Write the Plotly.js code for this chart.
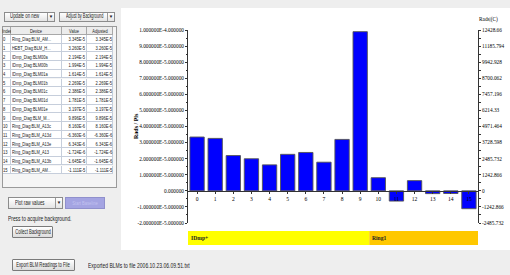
<!DOCTYPE html>
<html><head><meta charset="utf-8">
<script src="https://cdn.plot.ly/plotly-3.0.1.min.js"></script>
<style>
html,body{margin:0;padding:0;background:#eeeeee;width:510px;height:275px;overflow:hidden;font-family:"Liberation Sans",Arial,sans-serif;}
.abs{position:absolute;box-sizing:border-box;}
.t{position:absolute;white-space:nowrap;color:#222;}
</style></head><body>
<div id="chart" class="abs" style="left:121px;top:8px;width:389px;height:242px;background:#fff;"></div>
<script>
// ---------------- data ----------------
const indexes = [0,1,2,3,4,5,6,7,8,9,10,11,12,13,14,15];
const devices = ["Ring_Diag:BLM_AM...","HEBT_Diag:BLM_H...","IDmp_Diag:BLM00a","IDmp_Diag:BLM00b",
  "IDmp_Diag:BLM01a","IDmp_Diag:BLM01b","IDmp_Diag:BLM01c","IDmp_Diag:BLM01d","IDmp_Diag:BLM01e",
  "IDmp_Diag:BLM_M...","Ring_Diag:BLM_A13c","Ring_Diag:BLM_A13d","Ring_Diag:BLM_A13e",
  "Ring_Diag:BLM_A13","Ring_Diag:BLM_A13b","Ring_Diag:BLM_AM..."];
const rawValues = [3.345e-5,3.260e-5,2.194e-5,1.994e-5,1.614e-5,2.269e-5,2.386e-5,1.781e-5,3.197e-5,
  9.896e-5,8.160e-6,-6.360e-6,6.343e-6,-1.724e-6,-1.645e-6,-1.111e-5];
const adjustedValues = [3.345e-5,3.260e-5,2.194e-5,1.994e-5,1.614e-5,2.269e-5,2.386e-5,1.781e-5,3.197e-5,
  9.896e-5,8.160e-6,-6.360e-6,6.343e-6,-1.724e-6,-1.645e-6,-1.111e-5];
const categoryLabels = ["0","1","2","3","4","5","6","7","8","9","10","11","12","13","14","15"];
const leftTickVals = [1e-4,9e-5,8e-5,7e-5,6e-5,5e-5,4e-5,3e-5,2e-5,1e-5,0,-1e-5,-2e-5];
const leftTickText = ["1.000000E-4.000000","9.000000E-5.000000","8.000000E-5.000000","7.000000E-5.000000",
  "6.000000E-5.000000","5.000000E-5.000000","4.000000E-5.000000","3.000000E-5.000000","2.000000E-5.000000",
  "1.000000E-5.000000","0.000000","-1.000000E-5.000000","-2.000000E-5.000000"];
const rightTickVals = [12428.66,11185.794,9942.928,8700.062,7457.196,6214.33,4971.464,3728.598,2485.732,1242.866,0,-1242.866,-2485.732];
const rightTickText = ["12428.66","11185.794","9942.928","8700.062","7457.196","6214.33","4971.464","3728.598","2485.732","1242.866","0","-1242.866","-2485.732"];
const groupNames = ["IDmp+","Ring1"];
const groupFirst = [0,10];
const groupLast = [9,15];
const headers = ["Index","Device","Value","Adjusted"];

// ---------------- left panel (HTML) ----------------
const SX = 0.66;
function box(x0,y0,x1,y1,st){const d=document.createElement('div');d.className='abs';
  d.style.left=x0+'px';d.style.top=y0+'px';d.style.width=(x1-x0)+'px';d.style.height=(y1-y0)+'px';
  Object.assign(d.style,st||{});document.body.appendChild(d);return d;}
function txt(x,y,s,o){o=o||{};const fs=o.fs||6,sx=o.sx||SX;const e=document.createElement('div');e.className='t';
  e.textContent=s;e.style.fontSize=fs+'px';e.style.lineHeight=fs+'px';e.style.top=(y-fs/2)+'px';
  if(o.color)e.style.color=o.color;
  if(o.align==='right'){e.style.right=(510-x)+'px';e.style.transformOrigin='right center';e.style.transform='scaleX('+sx+')';}
  else if(o.align==='center'){e.style.left=x+'px';e.style.transformOrigin='center center';e.style.transform='translateX(-50%) scaleX('+sx+')';}
  else{e.style.left=x+'px';e.style.transformOrigin='left center';e.style.transform='scaleX('+sx+')';}
  document.body.appendChild(e);}
function combo(x0,y0,x1,y1,label,sx){
  box(x0,y0,x1,y1,{background:'linear-gradient(#ffffff,#e4e4e4)',border:'1px solid #8c8c8c'});
  box(x1-8,y0+1,x1-7.5,y1-1,{background:'#9a9a9a'});
  txt(x0+6.5,(y0+y1)/2,label,{fs:6.4,sx:sx});
  txt(x1-4,(y0+y1)/2+0.3,'\u25BC',{fs:4.5,align:'center',sx:1});
}
combo(3.5,11.5,55,21.5,'Update on new',0.68);
combo(59,11.5,115,21.5,'Adjust by Background',0.6);

// table
box(2,26,117,188,{background:'#f5f5f5',border:'1px solid #9a9a9a'});
const cols=[[2.5,10.5],[10.5,61.7],[61.7,86.7],[86.7,113.3]];
const hy0=26.5,hy1=35,rh=8.7;
cols.forEach((c,j)=>{box(c[0],hy0,c[1],hy1,{background:'#ececec',borderRight:'1px solid #a8a8a8',borderBottom:'1px solid #a8a8a8'});
  txt((c[0]+c[1])/2,(hy0+hy1)/2,headers[j],{align:'center',fs:6});});
indexes.forEach((idx,i)=>{const y0=hy1+i*rh,y1=y0+rh,yc=(y0+y1)/2;
  cols.forEach(c=>box(c[0],y0,c[1],y1,{background:'#fff',borderRight:'1px solid #c6cedb',borderBottom:'1px solid #c6cedb'}));
  txt(cols[0][0]+0.8,yc,String(idx),{fs:6.2});
  txt(cols[1][0]+1.6,yc,devices[i],{fs:6.2,sx:0.64});
  txt(cols[2][1]-1.3,yc,rawValues[i].toExponential(3).toUpperCase(),{fs:6.2,align:'right'});
  txt(cols[3][1]-1.3,yc,adjustedValues[i].toExponential(3).toUpperCase(),{fs:6.2,align:'right'});
});

combo(8,197,63,209,'Plot raw values',0.68);
box(65,197,105,209,{background:'#a4a4e2',border:'1px solid #9090cc'});
txt(85,203,'Start Baseline',{align:'center',fs:6.2,color:'#c2c2f0'});
txt(8,219,'Press to acquire background.',{fs:6.6,sx:0.74});
box(11.7,226,53.3,238,{background:'linear-gradient(#ffffff,#dcdcdc)',border:'1px solid #7a7a7a',borderRadius:'1px'});
txt(32.5,232,'Collect Background',{align:'center',fs:6.4,sx:0.64});
box(11.7,259,75,271,{background:'linear-gradient(#ffffff,#dcdcdc)',border:'1px solid #7a7a7a',borderRadius:'1px'});
txt(43.3,265,'Export BLM Readings to File',{align:'center',fs:6.4,sx:0.66});
txt(88,266,'Exported BLMs to file 2006.10.23.06.09.51.txt',{fs:6.6,sx:0.76});

// ---------------- chart (Plotly) ----------------
const serif='"Liberation Serif","Times New Roman",serif';
const T=22,B=5,H=242,plotH=H-T-B;
const yDom0=(245-223)/plotH;
const yR=[-2e-5,1e-4];
const zeroPos=yDom0+(0-yR[0])/(yR[1]-yR[0])*(1-yDom0);
const bandTop=14/plotH;
const minorL=[];for(let k=0;k<leftTickVals.length-1;k++)minorL.push((leftTickVals[k]+leftTickVals[k+1])/2);
const minorR=[];for(let k=0;k<rightTickVals.length-1;k++)minorR.push((rightTickVals[k]+rightTickVals[k+1])/2);
const bandColors=['#ffff00','#ffc800'];

const traces=[
 {type:'bar',x:indexes,y:rawValues,marker:{color:'#0000ff',line:{color:'#555555',width:0.9}},hoverinfo:'skip'},
 {type:'scatter',x:[],y:[],yaxis:'y2',hoverinfo:'skip'}
];
const axCommon={showgrid:false,zeroline:false,showline:true,linecolor:'#333',linewidth:1,ticks:'outside',tickcolor:'#333',tickwidth:1,fixedrange:true};
const layout={
 width:389,height:H,margin:{l:67,r:32,t:T,b:B,pad:0},paper_bgcolor:'#ffffff',plot_bgcolor:'#ffffff',
 showlegend:false,bargap:0.21,
 xaxis:Object.assign({},axCommon,{range:[-0.5,15.5],tickmode:'array',tickvals:indexes,ticktext:categoryLabels,
   anchor:'free',position:zeroPos,ticklen:2,tickfont:{family:serif,size:5.6,color:'#000'}}),
 yaxis:Object.assign({},axCommon,{domain:[yDom0,1],range:yR,tickmode:'array',tickvals:leftTickVals,ticktext:leftTickText,
   ticklen:2,tickfont:{family:serif,size:5.3,color:'#000'},
   minor:{tickmode:'array',tickvals:minorL,ticks:'outside',ticklen:1.5,tickcolor:'#333'}}),
 yaxis2:Object.assign({},axCommon,{overlaying:'y',side:'right',anchor:'free',position:1,
   range:[rightTickVals[rightTickVals.length-1],rightTickVals[0]],tickmode:'array',tickvals:rightTickVals,ticktext:rightTickText,
   ticklen:2,tickfont:{family:serif,size:5.3,color:'#000'},
   minor:{tickmode:'array',tickvals:minorR,ticks:'outside',ticklen:1.5,tickcolor:'#333'}}),
 shapes:groupNames.map((g,i)=>({type:'rect',xref:'x',yref:'paper',x0:groupFirst[i]-0.5,x1:groupLast[i]+0.5,y0:0,y1:bandTop,
   fillcolor:bandColors[i],line:{width:0},layer:'below'})),
 annotations:groupNames.map((g,i)=>({xref:'x',yref:'paper',x:groupFirst[i]-0.5,y:bandTop/2,xanchor:'left',yanchor:'middle',
   text:'<b>'+g+'</b>',showarrow:false,xshift:1,font:{family:serif,size:5.6,color:'#222'}})).concat([
   {xref:'paper',yref:'paper',x:(136-188)/290,y:(245-126)/plotH,textangle:-90,text:'<b>Rads / Pls</b>',showarrow:false,
    xanchor:'center',yanchor:'middle',font:{family:serif,size:6,color:'#000'}},
   {xref:'paper',yref:'paper',x:1,y:(245-20)/plotH,xanchor:'left',yanchor:'middle',text:'Rads|(C)',showarrow:false,xshift:-1,
    font:{family:serif,size:5.3,color:'#000'}}
 ])
};
Plotly.newPlot('chart',traces,layout,{displayModeBar:false,staticPlot:true});
</script>
</body></html>
